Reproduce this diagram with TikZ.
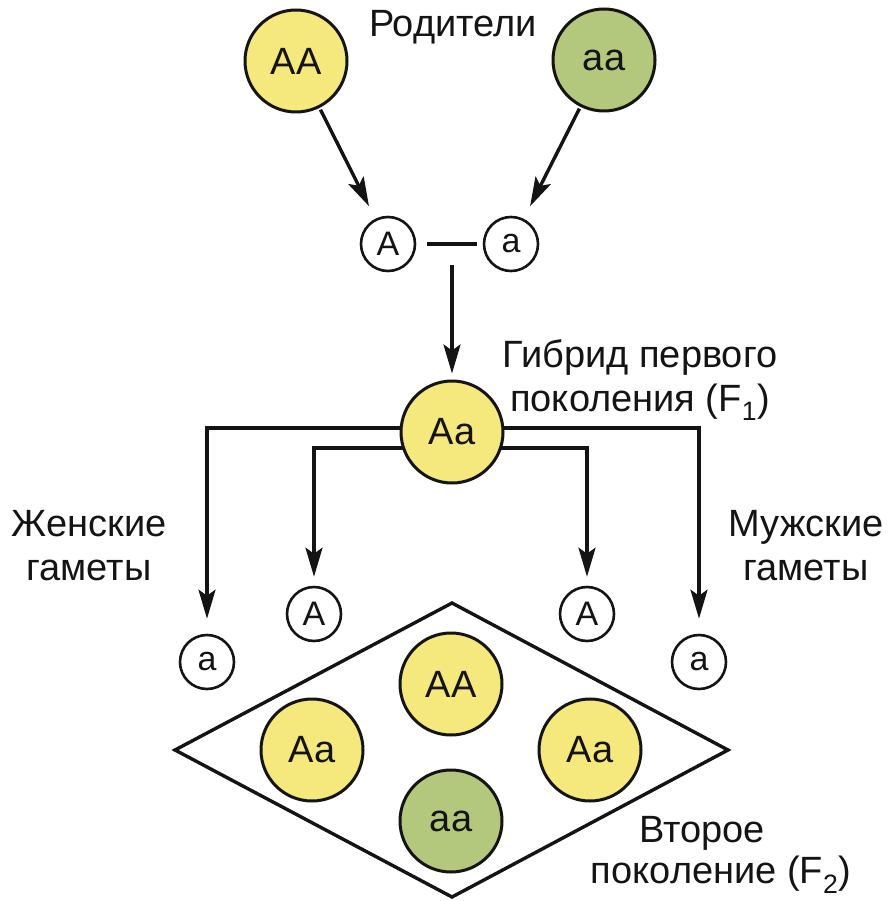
\documentclass[tikz,border=0pt]{standalone}
\usepackage{fontspec}
\setmainfont{Liberation Sans}
\usetikzlibrary{arrows.meta,backgrounds}
\definecolor{yel}{RGB}{245,232,125}
\definecolor{grn}{RGB}{180,200,125}
\definecolor{ink}{RGB}{20,20,20}
\tikzset{
  big/.style={circle,draw=ink,line width=3pt,minimum size=102pt,inner sep=0pt,
    font=\fontsize{38}{42}\selectfont,text=ink},
  yelbig/.style={big,fill=yel},
  grnbig/.style={big,fill=grn},
  gam/.style={circle,draw=ink,line width=2.6pt,minimum size=54pt,inner sep=0pt,fill=white,
    font=\fontsize{34}{38}\selectfont,text=ink},
  lab/.style={font=\fontsize{38}{44}\selectfont,text=ink,align=center,inner sep=0pt},
  conn/.style={draw=ink,line width=3.4pt},
  arr/.style={conn,-{Stealth[length=29pt,width=17pt,inset=6pt]}},
}
\begin{document}
\begin{tikzpicture}[x=1pt,y=-1pt]
\useasboundingbox (0,0) rectangle (888,901);
% parents
\node[yelbig] (P1) at (296,61) {AA};
\node[grnbig] (P2) at (604,60) {aa};
\node[lab] (tpar) at (453,27) {Родители};
% parental gametes
\node[gam] (gA) at (388,244) {A};
\node[gam] (ga) at (511,244) {a};
\draw[arr,shorten <=2pt,shorten >=14pt] (P1) -- (gA);
\draw[arr,shorten <=2pt,shorten >=14pt] (P2) -- (ga);
\draw[conn,shorten <=11pt,shorten >=6pt] (gA) -- (ga);
\coordinate (mid) at (452,244);
% F1
\node[yelbig] (F1) at (452,432) {Aa};
\draw[arr,shorten <=21pt,shorten >=6pt] (mid) -- (F1);
\node[lab] (tf1) at (640,380) {Гибрид первого\\поколения (F\textsubscript{1})};
% F1 gametes
\node[gam] (fa) at (207,662) {a};
\node[gam] (fA) at (314,614) {A};
\node[gam] (mA) at (587,614) {A};
\node[gam] (ma) at (699,662) {a};
\begin{scope}[on background layer]
\draw[arr,shorten >=15pt] ([yshift=4pt]F1.center) -| (fa);
\draw[arr,shorten >=9pt] ([yshift=-16pt]F1.center) -| (fA);
\draw[arr,shorten >=9pt] ([yshift=-16pt]F1.center) -| (mA);
\draw[arr,shorten >=15pt] ([yshift=4pt]F1.center) -| (ma);
\end{scope}
\node[lab] (tfem) at (89,546) {Женские\\гаметы};
\node[lab] (tmal) at (806,546) {Мужские\\гаметы};
% F2 diamond
\coordinate (dl) at (175,750);
\coordinate (dt) at (452,603);
\coordinate (dr) at (728,750);
\coordinate (db) at (452,897);
\draw[conn,line join=miter] (dl) -- (dt) -- (dr) -- (db) -- cycle;
\node[yelbig] (c1) at (451,684) {AA};
\node[yelbig] (c2) at (312,750) {Aa};
\node[yelbig] (c3) at (590,750) {Aa};
\node[grnbig] (c4) at (451,821) {aa};
\node[lab] (tf2a) at (702,833) {Второе};
\node[lab] (tf2b) at (721,875) {поколение (F\textsubscript{2})};
\end{tikzpicture}
\end{document}
